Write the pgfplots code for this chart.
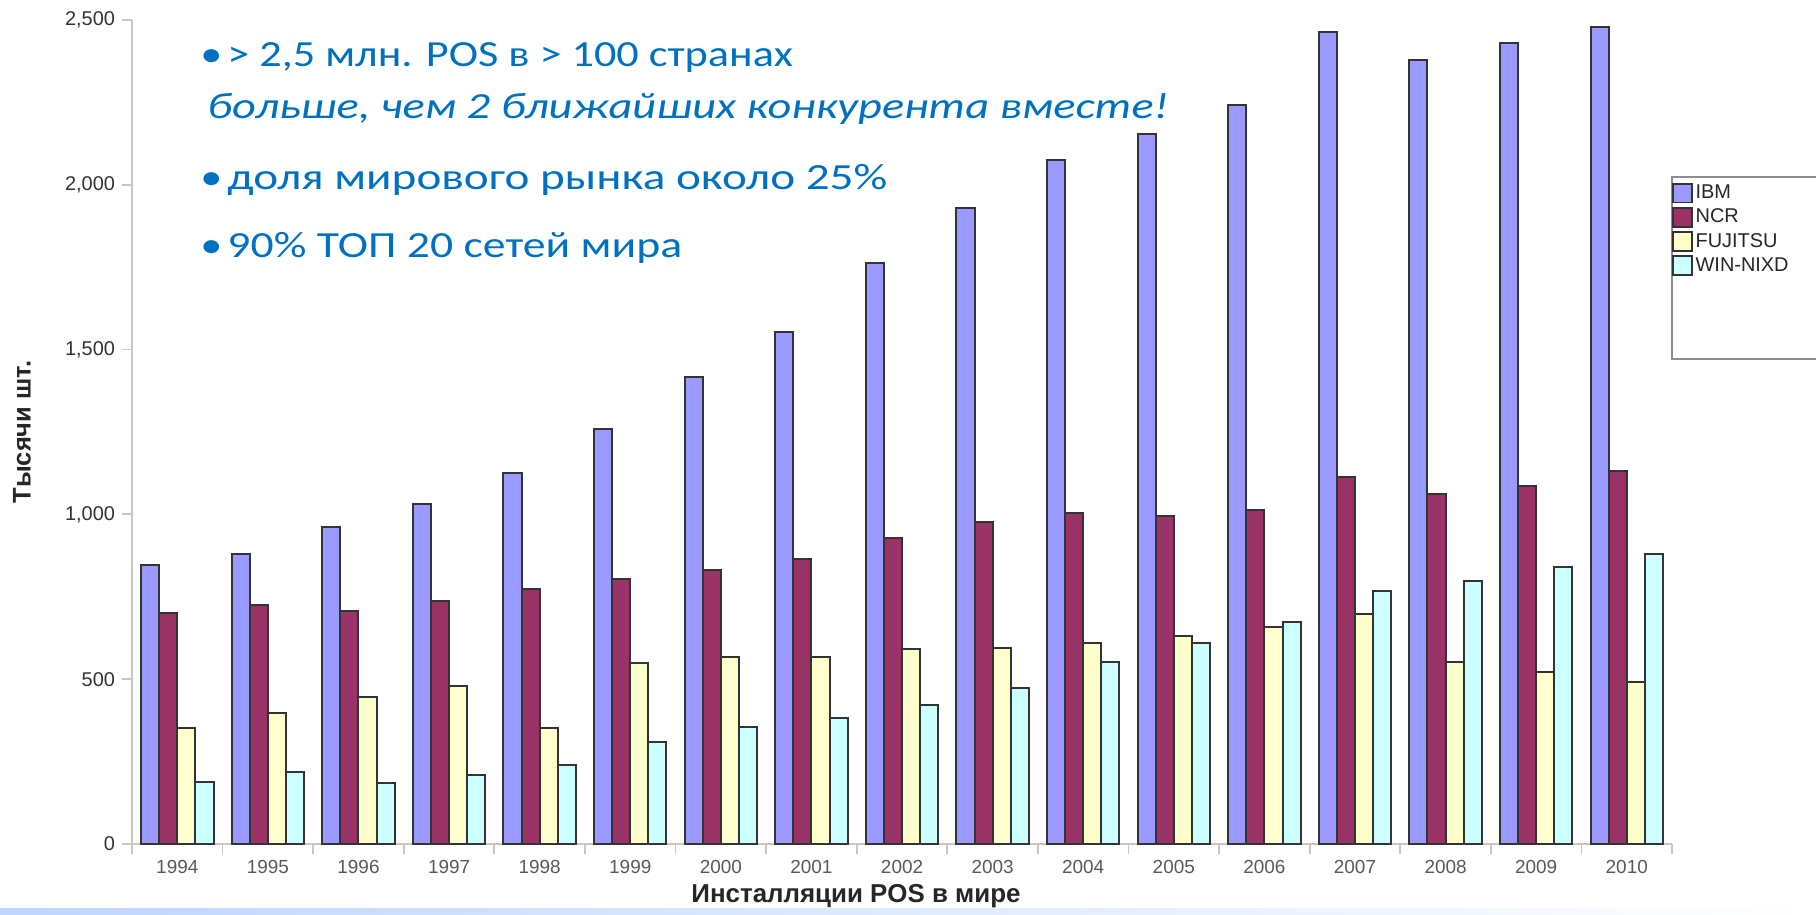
\documentclass[border=0pt]{standalone}
\usepackage{pgfplots}
\usepackage{pgfplotstable}
\pgfplotsset{compat=1.18}
\usepackage{fontspec}
\usepackage{graphicx}
\setmainfont{Liberation Sans}
\newfontfamily\bluefont{Carlito}
\definecolor{ibm}{HTML}{9999FF}
\definecolor{ncr}{HTML}{993366}
\definecolor{fuj}{HTML}{FFFFCC}
\definecolor{win}{HTML}{CCFFFF}
\definecolor{txtblue}{HTML}{0070C0}
\pgfplotstableread{
x  ibm  ncr  fuj  win
0  847  701  352  189
1  881  726  398  219
2  963  708  447  185
3  1030 736  480  210
4  1127 773  351  241
5  1258 803  548  308
6  1416 832  568  355
7  1554 864  568  382
8  1762 929  593  423
9  1930 978  596  473
10 2075 1005 609  552
11 2155 996  632  609
12 2243 1013 657  675
13 2465 1112 698  769
14 2379 1061 552  799
15 2429 1085 522  840
16 2478 1131 493  879
}\data
\newcommand{\bl}[2]{\scalebox{#1}[1]{\bluefont\fontsize{18.5}{20}\selectfont #2}}
\begin{document}
\begin{tikzpicture}[x=0.5bp,y=0.5bp]
\fill[left color=cyan!35!blue!25, right color=white] (0,0) rectangle (1816,6);
\begin{axis}[
  at={(66bp,35bp)}, anchor=south west,
  scale only axis, width=770bp, height=412bp,
  xmin=-0.5, xmax=16.5, ymin=0, ymax=2500,
  clip=false,
  ybar=0pt, bar width=0.2,
  axis x line*=bottom, axis y line*=left,
  axis line style={draw=black!22, line width=0.9bp, -},
  ytick={0,500,...,2500},
  xtick={-0.5,0.5,...,16.5}, xticklabels={},
  extra x ticks={0,...,16},
  extra x tick labels={1994,1995,1996,1997,1998,1999,2000,2001,2002,2003,2004,2005,2006,2007,2008,2009,2010},
  extra x tick style={major tick length=0pt},
  tick align=outside, major tick length=5bp,
  tick style={draw=black!22, line width=0.9bp},
  scaled y ticks=false,
  /pgf/number format/assume math mode=true,
  /pgf/number format/1000 sep={,},
  yticklabel style={font=\fontsize{10}{12}\selectfont, text=black!80},
  xticklabel style={font=\fontsize{9.5}{11}\selectfont, text=black!65, yshift=-4.6bp},
  legend style={at={(rel axis cs:1,0.8035)}, anchor=north west, draw=none, fill=none,
    font=\fontsize{10}{12}\selectfont, inner sep=0pt, row sep=1.3bp,
    nodes={inner sep=1.2bp, anchor=west, text=black!85},
    /tikz/every even column/.append style={column sep=0bp}},
  legend cell align=left,
  legend image code/.code={\draw[#1, line width=0.9bp] (0bp,-4.7bp) rectangle (9.5bp,4.7bp);},
  every axis plot/.append style={draw=black!80, line width=1bp},
]
\addplot[fill=ibm] table[x=x,y=ibm] {\data};
\addplot[fill=ncr] table[x=x,y=ncr] {\data};
\addplot[fill=fuj] table[x=x,y=fuj] {\data};
\addplot[fill=win] table[x=x,y=win] {\data};
\legend{IBM,NCR,FUJITSU,WIN-NIXD}
\draw[black!45, line width=0.9bp] (axis cs:16.5,2024) rectangle (axis cs:18.4,1471);
\end{axis}
\node[rotate=90, font=\bfseries\fontsize{12.8}{14}\selectfont, text=black!85] at (22,482) {Тысячи шт.};
\node[font=\bfseries\fontsize{13}{15}\selectfont, text=black!85] at (856,18) {Инсталляции POS в мире};
\node[anchor=base west, text=txtblue, inner sep=0] at (200,847) {\bl{1.2}{\textbullet}};
\node[anchor=base west, text=txtblue, inner sep=0] at (227,847) {\bl{1.2}{> 2,5 млн. POS в > 100 странах}};
\node[anchor=base west, text=txtblue, inner sep=0] at (207,795) {\bl{1.259}{\itshape больше, чем 2 ближайших конкурента вместе!}};
\node[anchor=base west, text=txtblue, inner sep=0] at (200,724) {\bl{1.2}{\textbullet}};
\node[anchor=base west, text=txtblue, inner sep=0] at (227,724) {\bl{1.28}{доля мирового рынка около 25\%}};
\node[anchor=base west, text=txtblue, inner sep=0] at (200,656) {\bl{1.2}{\textbullet}};
\node[anchor=base west, text=txtblue, inner sep=0] at (227,656) {\bl{1.24}{90\% ТОП 20 сетей мира}};
\pgfresetboundingbox
\path[use as bounding box] (0,0) rectangle (1816,914);
\end{tikzpicture}
\end{document}
